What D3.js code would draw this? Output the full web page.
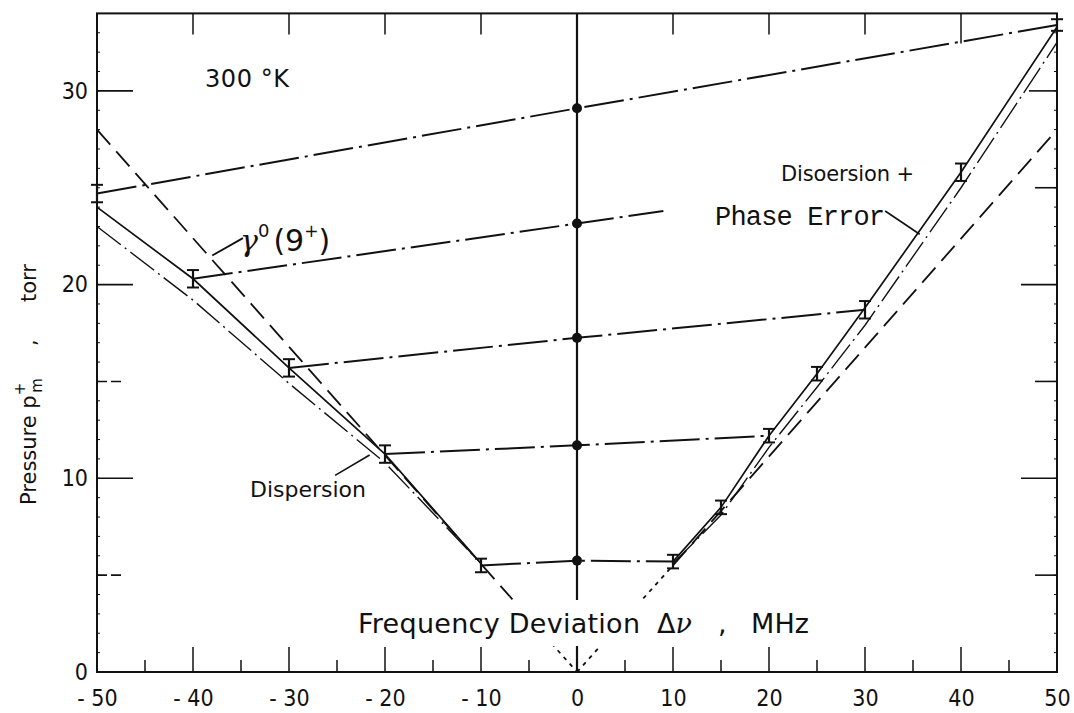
<!DOCTYPE html>
<html>
<head>
<meta charset="utf-8">
<script src="https://cdn.jsdelivr.net/npm/d3@7"></script>
<style>
  html, body { margin: 0; padding: 0; background: #fff; }
  svg { display: block; }
  .tick text { font-family: 'DejaVu Sans Condensed', 'DejaVu Sans', sans-serif; font-stretch: condensed; }
</style>
</head>
<body>
<svg id="chart" width="1074" height="713"></svg>
<script>
// Frequency deviation (MHz) and pressure (torr) axes
const freqTicks = [-50, -40, -30, -20, -10, 0, 10, 20, 30, 40, 50];
const pressureTicks = [0, 10, 20, 30];

// Dispersion + phase error (solid), left and right branches
const dpeLeftX = [-50, -40, -30, -20, -10];
const dpeLeftP = [24.0, 20.3, 15.7, 11.25, 5.6];
const dpeRightX = [10, 15, 20, 25, 30, 40, 50];
const dpeRightP = [5.7, 8.5, 12.2, 15.4, 18.8, 25.8, 33.3];

// Dispersion only (dash-dot), left and right branches
const dispLeftX = [-50, -40, -30, -20, -10];
const dispLeftP = [23.0, 19.2, 14.9, 10.8, 5.6];
const dispRightX = [10, 15, 20, 25, 30, 40, 50];
const dispRightP = [5.6, 8.1, 11.6, 14.7, 17.9, 25.0, 32.5];

// gamma0(9+) line
const gammaX = [-50, -7, 0, 10, 50];
const gammaP = [28.0, 3.9, 0, 5.5, 28.0];

// Constant-condition lines through the measured points at zero deviation
const isoX = [[-50, 0, 50], [-40, 0, 9], [-30, 0, 30], [-20, 0, 20], [-10, 0, 10]];
const isoP = [[24.7, 29.1, 33.4], [20.3, 23.15, 23.8], [15.7, 17.25, 18.7], [11.25, 11.7, 12.2], [5.5, 5.75, 5.7]];
const centerP = [29.1, 23.15, 17.25, 11.7, 5.75];

// Error bars: position, centre, half-height
const barX = [-50, -40, -30, -20, -10, 10, 15, 20, 25, 30, 40, 50];
const barP = [24.7, 20.3, 15.7, 11.25, 5.5, 5.7, 8.5, 12.2, 15.4, 18.7, 25.8, 33.4];
const barH = [0.45, 0.45, 0.45, 0.45, 0.35, 0.35, 0.35, 0.35, 0.35, 0.45, 0.45, 0.3];

const svg = d3.select('#chart');
const x = d3.scaleLinear().domain([-50, 50]).range([97, 1057]);
const y = d3.scaleLinear().domain([0, 34]).range([672, 13.4]);
const ink = '#111';

const zip = (xs, ps) => xs.map((v, i) => [v, ps[i]]);
const line = d3.line().x(d => x(d[0])).y(d => y(d[1]));

// Frame
const g = svg.append('g');
g.append('rect').attr('x', x(-50)).attr('y', y(34)).attr('width', x(50) - x(-50)).attr('height', y(0) - y(34))
  .attr('fill', 'none').attr('stroke', ink).attr('stroke-width', 2);

// Minor ticks along both vertical borders
d3.range(1, 34).forEach(v => {
  g.append('line').attr('x1', x(-50)).attr('x2', x(-50) + 3).attr('y1', y(v)).attr('y2', y(v)).attr('stroke', ink).attr('stroke-width', 1);
  g.append('line').attr('x1', x(50)).attr('x2', x(50) - 3).attr('y1', y(v)).attr('y2', y(v)).attr('stroke', ink).attr('stroke-width', 1);
});

// Left and right inward pressure ticks
[[5, 26], [10, 36], [15, 26], [20, 36], [30, 36]].forEach(([v, len]) => {
  g.append('line').attr('x1', x(-50)).attr('x2', x(-50) + len).attr('y1', y(v)).attr('y2', y(v))
    .attr('stroke', ink).attr('stroke-width', 1.6).attr('stroke-dasharray', v % 10 ? '10 4' : null);
});
[[5, 22], [10, 36], [15, 22], [20, 36], [25, 22], [30, 28]].forEach(([v, len]) => {
  g.append('line').attr('x1', x(50)).attr('x2', x(50) - len).attr('y1', y(v)).attr('y2', y(v))
    .attr('stroke', ink).attr('stroke-width', 1.6);
});

// Bottom ticks (upward) every 5 MHz, top ticks (downward) every 10 MHz
d3.range(-45, 50, 5).forEach(v => {
  const len = v % 10 === 0 ? 25 : 12;
  g.append('line').attr('x1', x(v)).attr('x2', x(v)).attr('y1', y(0)).attr('y2', y(0) - len)
    .attr('stroke', ink).attr('stroke-width', 1.5);
});
[-40, -30, -20, -10, 10, 20, 30, 40].forEach(v => {
  const len = v === 40 ? 30 : 21;
  g.append('line').attr('x1', x(v)).attr('x2', x(v)).attr('y1', y(34)).attr('y2', y(34) + len)
    .attr('stroke', ink).attr('stroke-width', 1.5);
});

// Tick labels via D3 axes
const xAxis = d3.axisBottom(x).tickValues(freqTicks).tickSize(0).tickPadding(18)
  .tickFormat(d => d < 0 ? '- ' + Math.abs(d) : String(d));
svg.append('g').attr('transform', `translate(0,${y(0)})`).call(xAxis)
  .call(s => s.select('.domain').remove())
  .selectAll('text').attr('font-size', 23).attr('fill', ink);

const yAxis = d3.axisLeft(y).tickValues(pressureTicks).tickSize(0).tickPadding(9);
svg.append('g').attr('transform', `translate(${x(-50)},0)`).call(yAxis)
  .call(s => s.select('.domain').remove())
  .selectAll('text').attr('font-size', 23).attr('fill', ink);

// Vertical line at zero deviation
g.append('line').attr('x1', x(0)).attr('x2', x(0)).attr('y1', y(34)).attr('y2', y(0))
  .attr('stroke', ink).attr('stroke-width', 2.2);

// gamma0 line: long dashes outside, fine dots near zero
const gpts = zip(gammaX, gammaP);
[[0, 1, '20 9'], [1, 2, '4 5'], [2, 3, '4 5'], [3, 4, '20 9']].forEach(([a, b, dash]) => {
  g.append('path').attr('d', line([gpts[a], gpts[b]])).attr('fill', 'none')
    .attr('stroke', ink).attr('stroke-width', 1.8).attr('stroke-dasharray', dash);
});

// Dispersion (dash-dot)
[zip(dispLeftX, dispLeftP), zip(dispRightX, dispRightP)].forEach(pts => {
  g.append('path').attr('d', line(pts)).attr('fill', 'none')
    .attr('stroke', ink).attr('stroke-width', 1.4).attr('stroke-dasharray', '30 5 2 5');
});

// Dispersion + phase error (solid)
[zip(dpeLeftX, dpeLeftP), zip(dpeRightX, dpeRightP)].forEach(pts => {
  g.append('path').attr('d', line(pts)).attr('fill', 'none')
    .attr('stroke', ink).attr('stroke-width', 1.7);
});

// Constant-condition lines (dash-dot)
isoX.forEach((xs, i) => {
  g.append('path').attr('d', line(zip(xs, isoP[i]))).attr('fill', 'none')
    .attr('stroke', ink).attr('stroke-width', 2).attr('stroke-dasharray', '40 6 3 6');
});

// Points at zero deviation
g.selectAll('circle.pt').data(centerP).join('circle').attr('class', 'pt')
  .attr('cx', x(0)).attr('cy', d => y(d)).attr('r', 5).attr('fill', ink);

// Error bars
barX.forEach((v, i) => {
  const top = y(barP[i] + barH[i]), bot = y(barP[i] - barH[i]);
  g.append('line').attr('x1', x(v)).attr('x2', x(v)).attr('y1', top).attr('y2', bot).attr('stroke', ink).attr('stroke-width', 2.2);
  [top, bot].forEach(yy => g.append('line').attr('x1', x(v) - 6).attr('x2', x(v) + 6).attr('y1', yy).attr('y2', yy)
    .attr('stroke', ink).attr('stroke-width', 2));
});

// Annotations
const txt = (s, px, py, size, family) => svg.append('text').attr('x', px).attr('y', py)
  .attr('font-size', size).attr('font-family', family || "'DejaVu Sans', sans-serif").attr('fill', ink).text(s);

txt('300 °K', 205, 87, 24).attr('textLength', 84);

// gamma0(9+) label with leader
g.append('line').attr('x1', x(-38.0)).attr('y1', y(21.5)).attr('x2', x(-34.8)).attr('y2', y(22.4)).attr('stroke', ink).attr('stroke-width', 1.8);
const gl = svg.append('text').attr('x', 240).attr('y', 251).attr('font-size', 30)
  .attr('font-family', "'DejaVu Sans', sans-serif").attr('fill', ink);
gl.append('tspan').attr('font-style', 'italic').attr('font-family', "'DejaVu Serif', serif").text('γ');
gl.append('tspan').attr('dy', -14).attr('font-size', 18).text('0');
gl.append('tspan').attr('dy', 14).attr('dx', 4).text('(9');
gl.append('tspan').attr('dy', -14).attr('font-size', 17).text('+');
gl.append('tspan').attr('dy', 14).text(')');

// Dispersion label with leader
g.append('line').attr('x1', x(-25.2)).attr('y1', y(10.15)).attr('x2', x(-21.6)).attr('y2', y(11.2)).attr('stroke', ink).attr('stroke-width', 1.6);
txt('Dispersion', 250, 497, 22).attr('textLength', 116);

// Dispersion + Phase Error label with leader
txt('Disoersion +', 781, 181, 21).attr('textLength', 133);
txt('Phase Error', 715, 225, 27, "'Liberation Mono', 'DejaVu Sans Mono', monospace").attr('textLength', 170);
g.append('line').attr('x1', x(32.1)).attr('y1', y(23.8)).attr('x2', x(35.7)).attr('y2', y(22.6)).attr('stroke', ink).attr('stroke-width', 1.6);

// X axis title on a white backing that breaks the lines behind it
svg.append('rect').attr('x', 352).attr('y', 600).attr('width', 466).attr('height', 46).attr('fill', '#fff');
const xt = svg.append('text').attr('y', 633).attr('font-size', 27)
  .attr('font-family', "'DejaVu Sans', sans-serif").attr('fill', ink);
xt.append('tspan').attr('x', 358).attr('textLength', 282).text('Frequency Deviation');
xt.append('tspan').attr('x', 657).text('Δ');
xt.append('tspan').attr('font-style', 'italic').attr('font-family', "'DejaVu Serif', serif").text('ν');
xt.append('tspan').attr('x', 718).text(',');
xt.append('tspan').attr('x', 751).attr('textLength', 58).text('MHz');

// Y axis title
const yt = svg.append('text').attr('transform', 'translate(36,0) rotate(-90)')
  .attr('font-size', 21).attr('font-family', "'DejaVu Sans', sans-serif").attr('fill', ink);
yt.append('tspan').attr('x', -505).text('Pressure p');
yt.append('tspan').attr('dy', -11).attr('font-size', 15).text('+');
yt.append('tspan').attr('dx', -10).attr('dy', 17).attr('font-size', 15).text('m');
yt.append('tspan').attr('x', -346).attr('dy', -6).text(',');
yt.append('tspan').attr('x', -302).text('torr');
</script>
</body>
</html>
